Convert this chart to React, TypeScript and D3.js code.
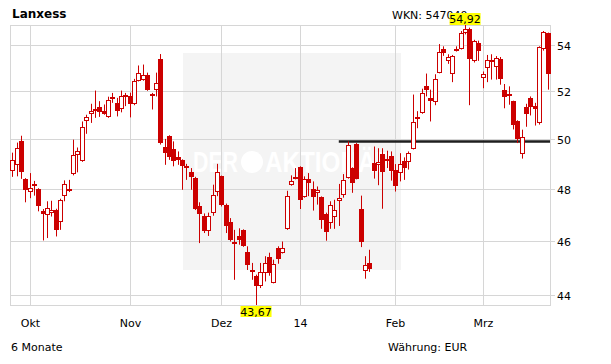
import React from "react";
import * as d3 from "d3";

// ---- data ----
const openPrices = [
  48.75, 48.96, 49.96, 48.43, 47.91, 48.23, 48.02, 47.15, 47.02, 47.09,
  47.22, 46.75, 47.75, 48.02, 48.61, 49.37, 49.12, 50.76, 51.06, 51.17,
  51.36, 51.17, 50.92, 51.79, 51.53, 51.27, 51.79, 51.83, 51.49, 52.47,
  52.52, 52.73, 51.92, 52.07, 53.41, 49.7, 50.16, 49.6, 49.29, 49.16,
  48.92, 48.68, 48.47, 47.36, 46.98, 46.38, 47.09, 47.9, 48.52, 47.41,
  46.74, 46.0, 46.21, 46.42, 45.59, 44.94, 44.73, 44.34, 44.82, 45.42,
  44.48, 45.76, 45.57, 46.48, 48.17, 48.42, 48.89, 47.7, 48.42, 48.03,
  47.85, 47.7, 47.06, 46.69, 46.94, 47.57, 47.78, 48.46, 48.85, 49.83,
  47.25, 44.89, 45.21, 49.05, 48.96, 49.42, 49.23, 49.33, 48.79, 48.66,
  49.12, 49.09, 49.63, 50.95, 51.1, 52.23, 51.72, 51.57, 52.82, 53.87,
  53.33, 52.78, 53.87, 53.87, 54.58, 54.73, 53.33, 54.12, 52.6, 53.03,
  53.36, 53.06, 53.4, 52.09, 51.92, 51.6, 50.76, 49.42, 51.36, 51.74,
  51.38, 50.69, 53.83, 54.55,
];
const highPrices = [
  49.47, 49.88, 50.16, 48.45, 48.65, 48.34, 48.05, 47.24, 47.54, 47.56,
  47.25, 47.64, 48.36, 48.38, 50.0, 49.68, 50.75, 51.03, 51.49, 52.05,
  51.6, 51.46, 51.79, 51.95, 51.74, 52.05, 51.95, 51.96, 52.55, 53.13,
  53.17, 52.82, 51.95, 52.82, 53.63, 50.03, 50.18, 49.93, 49.52, 49.2,
  49.02, 48.85, 48.5, 47.5, 47.07, 47.1, 48.19, 49.02, 48.55, 47.45,
  46.89, 46.44, 46.5, 46.46, 45.82, 45.2, 44.77, 45.2, 45.45, 45.58,
  45.32, 45.82, 46.0, 47.95, 48.56, 48.85, 48.92, 48.52, 48.65, 48.32,
  48.12, 47.73, 47.1, 47.54, 47.6, 48.22, 48.61, 49.93, 48.88, 49.86,
  47.76, 45.45, 45.69, 49.72, 49.65, 49.65, 49.55, 49.52, 49.01, 49.45,
  49.28, 49.52, 51.88, 51.18, 52.13, 52.78, 52.09, 52.75, 54.07, 53.97,
  53.62, 53.59, 53.97, 54.65, 54.92, 54.8, 54.26, 54.22, 52.87, 53.59,
  53.62, 53.54, 53.5, 52.33, 52.23, 51.62, 50.8, 50.41, 51.49, 51.8,
  51.53, 53.97, 54.65, 54.58,
];
const lowPrices = [
  48.5, 48.52, 48.42, 47.5, 47.66, 47.76, 47.15, 46.04, 46.13, 46.95,
  46.19, 46.44, 47.54, 47.9, 48.56, 48.68, 49.1, 50.24, 50.69, 50.9,
  50.94, 51.03, 50.9, 51.53, 50.96, 51.13, 51.39, 50.92, 51.43, 52.44,
  52.47, 52.04, 51.25, 51.8, 49.8, 48.98, 49.18, 48.92, 48.98, 47.99,
  48.38, 47.99, 47.2, 45.94, 46.32, 46.21, 46.98, 47.74, 47.34, 46.32,
  46.0, 44.58, 45.88, 45.8, 44.94, 44.58, 43.67, 44.28, 44.52, 44.73,
  44.45, 45.17, 45.55, 46.44, 48.15, 48.4, 47.24, 47.68, 47.74, 47.18,
  47.41, 46.48, 46.03, 46.48, 46.48, 46.59, 47.68, 48.43, 47.87, 48.4,
  45.79, 44.62, 44.87, 48.43, 48.17, 47.25, 48.85, 48.35, 47.92, 48.32,
  48.38, 48.79, 49.6, 50.47, 51.07, 51.8, 50.75, 51.43, 52.79, 53.55,
  53.2, 52.41, 53.74, 53.83, 54.5, 51.43, 53.26, 53.33, 52.15, 52.41,
  52.52, 52.52, 52.3, 51.3, 51.45, 50.42, 49.86, 49.23, 50.53, 51.0,
  50.58, 50.62, 53.78, 52.09,
];
const closePrices = [
  49.19, 49.66, 48.68, 47.98, 48.06, 48.17, 47.34, 47.05, 47.28, 47.22,
  46.42, 47.6, 48.22, 47.93, 49.37, 49.55, 50.52, 50.94, 51.2, 51.27,
  51.13, 51.08, 51.64, 51.71, 51.17, 51.8, 51.86, 51.5, 52.44, 52.82,
  52.73, 52.06, 51.8, 52.36, 49.87, 49.45, 49.31, 49.12, 49.18, 48.95,
  48.84, 48.5, 47.24, 47.05, 46.38, 46.98, 47.79, 48.69, 47.41, 46.59,
  46.05, 45.92, 46.06, 45.82, 45.11, 44.88, 44.34, 44.86, 45.2, 44.82,
  45.17, 45.36, 45.76, 47.75, 48.34, 48.5, 47.6, 48.42, 48.24, 47.7,
  47.99, 46.81, 46.35, 47.38, 47.22, 47.68, 48.38, 49.79, 48.26, 48.42,
  46.0, 45.11, 44.99, 48.72, 49.1, 48.68, 49.15, 48.75, 48.12, 49.01,
  48.85, 49.45, 50.74, 50.87, 51.95, 52.06, 51.6, 52.55, 53.73, 53.69,
  53.52, 53.54, 53.81, 54.58, 54.76, 53.42, 54.19, 53.76, 52.78, 53.37,
  53.26, 53.44, 52.55, 51.77, 51.85, 50.62, 50.04, 50.11, 51.07, 51.36,
  51.25, 53.95, 54.6, 52.75,
];
const holidays = ["2013-12-24", "2013-12-25", "2013-12-26", "2013-12-31", "2014-01-01"];
const firstDay = new Date(2013, 8, 25);
const lastDay = new Date(2014, 2, 24);
const monthLabels = ["Okt", "Nov", "Dez", "14", "Feb", "Mrz"];
const yTicks = [44, 46, 48, 50, 52, 54];
const resistanceLevel = 49.92;
const resistanceStart = "2014-01-15";

const fmt = d3.timeFormat("%Y-%m-%d");
const tradingDays = d3.timeDay
  .range(firstDay, d3.timeDay.offset(lastDay, 1))
  .filter((d) => d.getDay() !== 0 && d.getDay() !== 6 && !holidays.includes(fmt(d)))
  .map(fmt);

const W = 611;
const H = 364;
const left = 10;
const right = 550;
const top = 25;
const bottom = 305;
const RED = "#cc0000";
const GRID = "#d6d6d6";
const FONT = "'DejaVu Sans', Verdana, sans-serif";

export default function App() {
  const x = d3.scaleBand<string>().domain(tradingDays).range([left, right]);
  const cxOf = (d: string) => (x(d) as number) + x.bandwidth() / 2;
  const yMin = d3.min(lowPrices) as number;
  const yMax = d3.max(highPrices) as number;
  const y = d3.scaleLog().domain([yMin, yMax]).range([bottom, top]);

  const monthStarts = tradingDays.filter(
    (d, i) => i > 0 && d.slice(5, 7) !== tradingDays[i - 1].slice(5, 7)
  );

  const maxIdx = highPrices.indexOf(yMax);
  const minIdx = lowPrices.indexOf(yMin);
  const maxX = cxOf(tradingDays[maxIdx]);
  const minX = cxOf(tradingDays[minIdx]);
  const fmtNum = (v: number) => v.toFixed(2).replace(".", ",");

  const yRes = y(resistanceLevel);

  return (
    <svg
      width={W}
      height={H}
      style={{ position: "absolute", left: 0, top: 0, display: "block", background: "#fff" }}
      fontFamily={FONT}
    >
      <rect x={0} y={0} width={W} height={H} fill="#fff" />
      {/* watermark */}
      <rect x={183} y={53} width={218} height={217} fill="#f4f4f4" />
      <g fill="#fff" fontFamily="'Liberation Sans', Arial, sans-serif" fontWeight="bold" fontSize={29}>
        <text x={193} y={172} textLength={45} lengthAdjust="spacingAndGlyphs">DER</text>
        <circle cx={252} cy={162} r={11} fill="#fff" />
        <text x={265} y={172} textLength={128} lengthAdjust="spacingAndGlyphs">AKTIONÄR</text>
      </g>

      {/* horizontal grid + ticks */}
      {yTicks.map((t) => {
        const yy = Math.floor(y(t)) + 0.5;
        return (
          <g key={"h" + t}>
            <line x1={left} x2={555} y1={yy} y2={yy} stroke={GRID} strokeWidth={1} />
            <text x={557} y={yy + 4} fontSize={11} fill="#000">
              {t}
            </text>
          </g>
        );
      })}
      {/* vertical grid + month labels */}
      {monthStarts.map((d, i) => {
        const xx = Math.round(cxOf(d)) + 0.5;
        return (
          <g key={"v" + d}>
            <line x1={xx} x2={xx} y1={top} y2={bottom} stroke={GRID} strokeWidth={1} />
            <text x={xx} y={327} fontSize={11} textAnchor="middle" fill="#000">
              {monthLabels[i]}
            </text>
          </g>
        );
      })}
      {/* frame */}
      <rect x={left + 0.5} y={top + 0.5} width={right - left} height={bottom - top} fill="none" stroke={GRID} />

      {/* resistance line */}
      <line
        x1={cxOf(resistanceStart)}
        x2={right}
        y1={yRes}
        y2={yRes}
        stroke="#1e1e1e"
        strokeWidth={2.5}
      />

      {/* candles */}
      {tradingDays.map((d, i) => {
        const o = openPrices[i];
        const c = closePrices[i];
        const h = highPrices[i];
        const l = lowPrices[i];
        const cx = Math.round(cxOf(d));
        const yTop = Math.round(y(Math.max(o, c)));
        const yBot = Math.round(y(Math.min(o, c)));
        const up = c >= o;
        return (
          <g key={d}>
            <line x1={cx + 0.5} x2={cx + 0.5} y1={y(h)} y2={y(l)} stroke={RED} strokeWidth={1} />
            {up ? (
              <rect
                x={cx - 1.5}
                y={yTop + 0.5}
                width={4}
                height={Math.max(1, yBot - yTop - 1)}
                fill="#fff"
                stroke={RED}
                strokeWidth={1}
              />
            ) : (
              <rect x={cx - 2} y={yTop} width={5} height={Math.max(2, yBot - yTop)} fill={RED} />
            )}
          </g>
        );
      })}

      {/* max / min labels */}
      <text x={12} y={18} fontSize={12} fontWeight="bold" fill="#000">
        Lanxess
      </text>
      <text x={392} y={19} fontSize={11} fill="#000">
        WKN: 547040
      </text>
      <rect x={maxX - 15.5} y={13} width={31} height={12} fill="#ffff00" />
      <text x={maxX} y={23} fontSize={11} textAnchor="middle" fill="#000">
        {fmtNum(yMax)}
      </text>
      <rect x={minX - 15.5} y={306} width={31} height={11} fill="#ffff00" />
      <text x={minX} y={315.5} fontSize={11} textAnchor="middle" fill="#000">
        {fmtNum(yMin)}
      </text>

      <text x={11} y={351} fontSize={11} fill="#000">
        6 Monate
      </text>
      <text x={388} y={351} fontSize={11} fill="#000">
        Währung: EUR
      </text>
    </svg>
  );
}
